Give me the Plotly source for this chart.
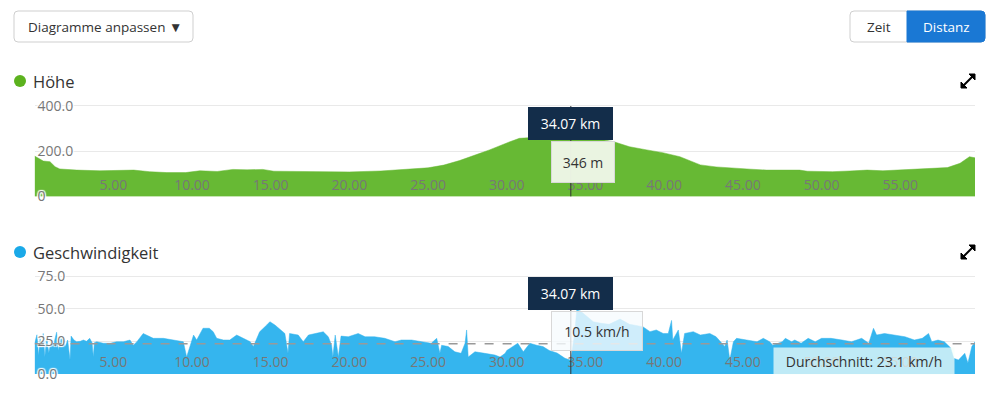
import plotly.graph_objects as go

W, H = 1000, 396

# ---------------- data ----------------
elev_km = [0, 0.55, 0.98, 1.3, 1.6, 2.67, 4.15, 5.2, 6.3, 7.3, 8.4, 9.6, 10.5, 11.6,
           12.6, 13.5, 14.5, 15.2, 16.9, 18.5, 20, 22, 24, 25, 26, 27, 28.3, 28.9,
           30.2, 30.8, 31.4, 32.5, 33.5, 34.5, 35.5, 36.8, 37.8, 38.9, 39.9, 41,
           42.3, 43.3, 44.4, 45.5, 46.5, 47.5, 48.6, 49.1, 49.7, 50.7, 51.8, 52.9,
           53.9, 55, 56.1, 57, 58, 58.8, 59.4, 59.75]
elev_m = [178, 156, 153, 131, 121, 116, 113, 114, 116, 109, 105, 105, 113, 110,
          119, 117, 119, 111, 110, 106, 108, 112, 120, 126, 138, 158, 190, 205,
          241, 256, 259, 262, 265, 264, 258, 241, 219, 205, 193, 175,
          139, 130, 124, 120, 116, 115, 116, 111, 109, 109, 112, 116,
          113, 116, 119, 121, 127, 146, 175, 170]

speed_km = [0.0, 0.15, 0.25, 0.35, 0.45, 0.55, 0.65, 0.77, 0.9, 1.05, 1.2, 1.4, 1.5,
            1.65, 1.8, 1.95, 2.1, 2.25, 2.32, 2.5, 2.67, 2.9, 3.1, 3.3, 3.5, 3.65,
            3.73, 3.8, 3.95, 4.37, 4.8, 5.2, 5.64, 6.06, 6.27, 6.5, 6.9, 7.12, 7.54,
            8.18, 8.8, 9.45, 9.66, 9.87, 10.1, 10.3, 10.7, 11.1, 11.35, 11.57, 12.0,
            12.4, 12.84, 13.26, 13.7, 13.9, 14.3, 14.75, 14.95, 15.27, 15.6, 15.9,
            16.1, 16.2, 16.75, 17.07, 17.4, 17.8, 18.34, 18.66, 18.87, 18.95, 19.1,
            19.3, 19.47, 19.93, 20.56, 21.0, 21.6, 22.25, 22.9, 23.3, 23.96, 24.6,
            25.2, 25.55, 25.75, 25.86, 26.28, 26.7, 27.1, 27.35, 27.45, 27.55, 27.98,
            28.6, 29.25, 29.57, 29.9, 30.0, 30.4, 30.7, 31.05, 31.47, 31.9, 32.3,
            32.7, 33.2, 33.7, 34.07, 34.3, 34.45, 34.7, 35.07, 35.5, 35.9, 36.5,
            37.2, 37.8, 38.3, 38.67, 39.1, 39.5, 39.94, 40.26, 40.47, 40.55, 40.9,
            41.1, 41.3, 41.85, 42.3, 42.9, 43.3, 43.85, 44.0, 44.17, 44.4, 44.6,
            45.24, 45.9, 46.3, 46.7, 46.9, 47.5, 47.7, 48.1, 48.3, 48.7, 49.15, 49.6,
            50.0, 50.6, 51.3, 51.9, 52.55, 53.0, 53.3, 53.5, 54.0, 54.7, 55.3, 55.9,
            56.4, 56.8, 57.0, 57.4, 57.8, 58.2, 58.4, 58.7, 58.9, 59.1, 59.3, 59.55,
            59.75]
speed_kmh = [23.5, 30, 14, 27, 20, 31, 13, 28.5, 16, 26, 22, 32, 18,
             27, 27.5, 21, 26, 10.7, 29, 26, 24.7, 25, 26, 25, 27.3, 24,
             13, 24, 24.7, 23.5, 23.5, 24.7, 24.7, 26, 22, 24.7, 31, 29.8, 27.3,
             27.3, 26, 24.7, 13, 21, 29.8, 26, 35, 35, 32.3, 27.3, 26,
             26, 29.8, 27.3, 24.7, 21, 32.3, 37.5, 40, 37.5, 33.7, 31,
             15.8, 31, 29.8, 24.7, 29.8, 31, 32.3, 28.5, 22, 13, 29.8,
             13, 29, 28.5, 31, 28.5, 28.5, 27.3, 24.7, 26, 26, 24.7,
             23.5, 27.3, 15.8, 22, 21, 17, 15.8, 23.5, 33.7, 13, 17,
             15.8, 14.5, 13, 15.8, 18, 21, 23.5, 17, 23.5, 22, 21,
             18, 16, 12, 10.5, 30, 49, 48, 44, 40, 39, 38,
             42, 38, 37, 36, 32.4, 33.7, 31, 31, 41, 26, 33.7,
             15.8, 31, 32.4, 29.8, 31, 28.5, 21, 26, 10.7, 24.7, 27.3,
             26, 24.7, 27.3, 24.7, 22, 24.7, 27.3, 24.7, 26, 23.5, 27.3, 24.7,
             27.3, 27.3, 26, 24.7, 27.3, 23.5, 35, 29.8, 31, 29.8, 28.5, 26,
             27.3, 31, 24.7, 26, 24.7, 20, 12, 10.7, 13, 15.8, 8.5, 21,
             24.7]

x_ticks = [5, 10, 15, 20, 25, 30, 35, 40, 45, 50, 55]
elev_ticks = [0, 200, 400]
elev_ticktext = ["0", "200.0", "400.0"]
speed_ticks = [0, 25, 50, 75]
speed_ticktext = ["0.0", "25.0", "50.0", "75.0"]

cursor_km = 34.07
cursor_elev = 346
cursor_speed = 10.5
avg_speed = 23.1
x_max = 59.75

# ---------------- styling ----------------
FONT = "Open Sans"
GREEN = "#67b934"
BLUE = "#35b5ee"
NAVY = "#132d4a"
TICK = dict(family=FONT, size=14, color="#777")
YTICK = dict(family=FONT, size=14, color="#777",
             shadow="1px 1px 1px #fff, -1px -1px 1px #fff, 1px -1px 1px #fff, -1px 1px 1px #fff")


def px(x):
    return x / W


def py(y):
    return 1 - y / H


fig = go.Figure()
fig.add_trace(go.Scatter(x=elev_km, y=elev_m, mode="lines", line=dict(width=0.5, color=GREEN),
                         fill="tozeroy", fillcolor=GREEN, xaxis="x", yaxis="y", hoverinfo="skip"))
fig.add_trace(go.Scatter(x=speed_km, y=speed_kmh, mode="lines", line=dict(width=0.5, color=BLUE),
                         fill="tozeroy", fillcolor=BLUE, xaxis="x2", yaxis="y2", hoverinfo="skip"))

xdom = [px(34.6), px(975)]
xcommon = dict(domain=xdom, range=[0, x_max], tickvals=x_ticks,
               ticktext=[f"{v:.2f}" for v in x_ticks], ticklabelposition="outside",
               ticklabelstandoff=-22,
               ticks="", showgrid=False, zeroline=False, showline=False,
               tickfont=TICK, fixedrange=True, automargin=False)
ycommon = dict(side="right", anchor="free", position=px(34.6), ticklabelposition="outside",
               ticks="", ticklabelstandoff=2, showgrid=True, gridcolor="#e9e9e9",
               zeroline=False, showline=False, tickfont=YTICK, fixedrange=True,
               automargin=False, layer="above traces")

# elevation: 0 at y=196.4px, 400 at 105.7px ; speed: 0 at 374px, 75 at 276px
e_ppu = (196.4 - 105.7) / 400
s_ppu = (374 - 276) / 75
e_top, e_bot = 406, -1
s_top, s_bot = 76.5, -0.2

fig.update_layout(
    width=W, height=H, autosize=False,
    margin=dict(l=0, r=0, t=0, b=0, pad=0, autoexpand=False),
    paper_bgcolor="white", plot_bgcolor="rgba(0,0,0,0)",
    showlegend=False,
    xaxis=dict(anchor="y", **xcommon),
    xaxis2=dict(anchor="y2", **xcommon),
    yaxis=dict(domain=[py(196.4 - e_bot * e_ppu), py(196.4 - e_top * e_ppu)], range=[e_bot, e_top],
               tickvals=elev_ticks, ticktext=elev_ticktext, **ycommon),
    yaxis2=dict(domain=[py(374 - s_bot * s_ppu), py(374 - s_top * s_ppu)], range=[s_bot, s_top],
                tickvals=speed_ticks, ticktext=speed_ticktext, **ycommon),
)

shapes = []
annotations = []


def rounded_rect(x0, y0, x1, y1, r):
    X0, X1 = px(x0), px(x1)
    rx = r / W
    ry = r / H
    Y0, Y1 = py(y0), py(y1)
    return (f"M {X0+rx},{Y0} L {X1-rx},{Y0} Q {X1},{Y0} {X1},{Y0-ry} "
            f"L {X1},{Y1+ry} Q {X1},{Y1} {X1-rx},{Y1} L {X0+rx},{Y1} "
            f"Q {X0},{Y1} {X0},{Y1+ry} L {X0},{Y0-ry} Q {X0},{Y0} {X0+rx},{Y0} Z")


# buttons
shapes.append(dict(type="path", xref="paper", yref="paper", path=rounded_rect(14, 11, 193, 42, 4),
                   line=dict(color="#cfcfcf", width=1), fillcolor="white"))
annotations.append(dict(xref="paper", yref="paper", x=px(26), y=py(27), xanchor="left", yanchor="middle",
                        text="Diagramme anpassen ▼", showarrow=False,
                        font=dict(family=FONT, size=13.5, color="#333")))
shapes.append(dict(type="path", xref="paper", yref="paper", path=rounded_rect(850, 11, 985, 42, 4),
                   line=dict(color="#cfcfcf", width=1), fillcolor="white"))
shapes.append(dict(type="path", xref="paper", yref="paper",
                   path=(f"M {px(907)},{py(11)} L {px(981)},{py(11)} Q {px(985)},{py(11)} {px(985)},{py(15)} "
                         f"L {px(985)},{py(38)} Q {px(985)},{py(42)} {px(981)},{py(42)} L {px(907)},{py(42)} Z"),
                   line=dict(color="#1a78d4", width=1), fillcolor="#1a78d4"))
annotations.append(dict(xref="paper", yref="paper", x=px(878.5), y=py(27), xanchor="center", yanchor="middle",
                        text="Zeit", showarrow=False, font=dict(family=FONT, size=13.5, color="#333")))
annotations.append(dict(xref="paper", yref="paper", x=px(946), y=py(27), xanchor="center", yanchor="middle",
                        text="Distanz", showarrow=False, font=dict(family=FONT, size=13.5, color="white")))

# section titles with dots and expand icons
for cy, color, title in [(81, "#5cb21e", "Höhe"), (252, "#1aa9e8", "Geschwindigkeit")]:
    shapes.append(dict(type="circle", xref="paper", yref="paper", x0=px(14), x1=px(26),
                       y0=py(cy + 6), y1=py(cy - 6), fillcolor=color, line=dict(width=0)))
    annotations.append(dict(xref="paper", yref="paper", x=px(31), y=py(cy), xanchor="left", yanchor="middle",
                            text=title, showarrow=False, font=dict(family=FONT, size=16.5, color="#333")))
    ix, iy = 968, cy
    shapes.append(dict(type="line", xref="paper", yref="paper", x0=px(ix - 5), y0=py(iy + 5),
                       x1=px(ix + 5), y1=py(iy - 5), line=dict(color="black", width=2)))
    shapes.append(dict(type="path", xref="paper", yref="paper",
                       path=f"M {px(ix+7)},{py(iy-7)} L {px(ix+7)},{py(iy-1)} L {px(ix+1)},{py(iy-7)} Z",
                       fillcolor="black", line=dict(color="black", width=1)))
    shapes.append(dict(type="path", xref="paper", yref="paper",
                       path=f"M {px(ix-7)},{py(iy+7)} L {px(ix-7)},{py(iy+1)} L {px(ix-1)},{py(iy+7)} Z",
                       fillcolor="black", line=dict(color="black", width=1)))

# average line
shapes.append(dict(type="line", xref="x2", yref="y2", x0=0, x1=x_max, y0=avg_speed, y1=avg_speed,
                   line=dict(color="#999", width=1.5, dash="dash"), layer="above"))

# crosshairs
shapes.append(dict(type="line", xref="x", yref="paper", x0=cursor_km, x1=cursor_km,
                   y0=py(196.4), y1=py(106), line=dict(color="#333", width=1), layer="above"))
shapes.append(dict(type="line", xref="x2", yref="paper", x0=cursor_km, x1=cursor_km,
                   y0=py(374), y1=py(277), line=dict(color="#333", width=1), layer="above"))


def tooltip(xref, top, val_text, box_h, box_w, bg):
    # navy header box centred on the cursor
    annotations.append(dict(xref=xref, yref="paper", x=cursor_km, y=py(top),
                            xanchor="center", yanchor="top", text=f"{cursor_km:.2f} km", showarrow=False,
                            width=85, height=33, bgcolor=NAVY, borderpad=0, borderwidth=0,
                            font=dict(family=FONT, size=14, color="white")))
    # value box
    annotations.append(dict(xref=xref, yref="paper", x=cursor_km, y=py(top + 34),
                            xanchor="left", yanchor="top", xshift=-20, text=val_text, showarrow=False,
                            width=box_w, height=box_h, bgcolor=bg, bordercolor="#d8d8d8", borderwidth=1,
                            borderpad=0, font=dict(family=FONT, size=14, color="#333")))


tooltip("x", 107, f"{cursor_elev} m", 40, 62, "rgba(238,246,231,0.97)")
tooltip("x2", 277, f"{cursor_speed} km/h", 38, 90, "rgba(246,251,254,0.8)")

# average label
annotations.append(dict(xref="paper", yref="paper", x=px(773), y=py(347), xanchor="left", yanchor="top",
                        text=f"Durchschnitt: {avg_speed} km/h", showarrow=False, width=180, height=26,
                        bgcolor="rgba(245,255,250,0.72)", borderpad=0,
                        font=dict(family=FONT, size=14, color="#333")))

fig.update_layout(shapes=shapes, annotations=annotations)
fig.write_html("out.html", config={"displayModeBar": False, "responsive": False},
               post_script="document.body.style.margin='0';document.body.style.padding='0';")
